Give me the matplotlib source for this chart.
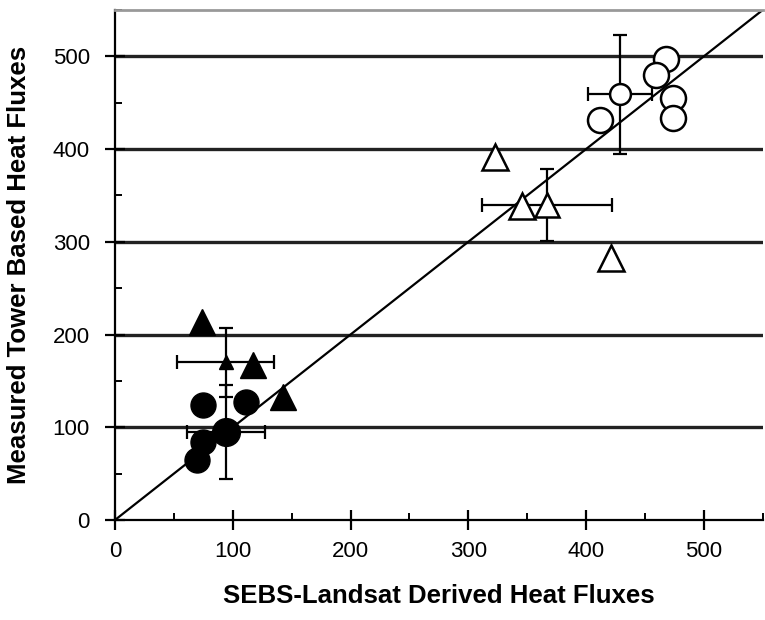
import matplotlib.pyplot as plt
from matplotlib.ticker import MultipleLocator

# filled circles
fc_x = [75, 111, 75, 70]
fc_y = [124, 127, 84, 65]
fc_mean = (94, 95)
fc_xerr = 33
fc_yerr = 51

# filled triangles
ft_x = [74, 117, 143]
ft_y = [213, 167, 133]
ft_mean = (94, 170)
ft_xerr = 41
ft_yerr = 37

# open triangles
ot_x = [323, 346, 421]
ot_y = [391, 339, 283]
ot_mean = (367, 340)
ot_xerr = 55
ot_yerr = 39

# open circles
oc_x = [468, 459, 474, 474, 412]
oc_y = [497, 480, 455, 433, 431]
oc_mean = (429, 459)
oc_xerr = 27
oc_yerr = 64

ticks = [0, 100, 200, 300, 400, 500]

plt.rcParams['font.family'] = ['Liberation Sans', 'DejaVu Sans']

fig = plt.figure(figsize=(7.65, 6.2), dpi=100)
ax = fig.add_axes([0.1503, 0.1613, 0.8467, 0.8226])
ax.set_xlim(0, 550)
ax.set_ylim(0, 550)

for t in ticks[1:]:
    ax.axhline(t, color='#222222', lw=2.4, zorder=1)

ax.plot([0, 550], [0, 550], color='black', lw=1.6, zorder=2)

eb = dict(ecolor='black', elinewidth=1.6, capsize=5, capthick=1.6, zorder=3)

ax.errorbar(*ft_mean, xerr=ft_xerr, yerr=ft_yerr, fmt='none', **eb)
ax.errorbar(*fc_mean, xerr=fc_xerr, yerr=fc_yerr, fmt='none', **eb)
ax.errorbar(*ot_mean, xerr=ot_xerr, yerr=ot_yerr, fmt='none', **eb)
ax.errorbar(*oc_mean, xerr=oc_xerr, yerr=oc_yerr, fmt='none', **eb)

ax.plot(fc_x, fc_y, 'o', ms=18, color='black', zorder=4)
ax.plot(*fc_mean, 'o', ms=20, color='black', zorder=4)
ax.plot(ft_x, ft_y, '^', ms=19, color='black', zorder=4)
ax.plot(*ft_mean, '^', ms=10, color='black', zorder=5)
ax.plot(ot_x, ot_y, '^', ms=19, mfc='white', mec='black', mew=1.8, zorder=4)
ax.plot(*ot_mean, '^', ms=17, mfc='white', mec='black', mew=1.8, zorder=4)
ax.plot(oc_x, oc_y, 'o', ms=18, mfc='white', mec='black', mew=1.8, zorder=4)
ax.plot(*oc_mean, 'o', ms=15, mfc='white', mec='black', mew=1.8, zorder=5)

ax.spines['right'].set_visible(False)
ax.spines['top'].set_color('#999999')
ax.spines['top'].set_linewidth(2)
for s in ['left', 'bottom']:
    ax.spines[s].set_linewidth(1.6)

ax.set_xticks(ticks)
ax.set_yticks(ticks)
ax.xaxis.set_minor_locator(MultipleLocator(50))
ax.yaxis.set_minor_locator(MultipleLocator(50))
ax.tick_params(which='major', direction='inout', length=14, width=1.6,
               labelsize=16, pad=11, top=False, right=False)
ax.tick_params(which='minor', direction='in', length=5, width=1.4,
               top=False, right=False)
ax.tick_params(axis='x', which='major', pad=8)

ax.set_xlabel('SEBS-Landsat Derived Heat Fluxes', fontsize=18.5,
              fontweight='bold', labelpad=16)
ax.set_ylabel('Measured Tower Based Heat Fluxes', fontsize=18.5,
              fontweight='bold', labelpad=16)

fig.savefig('out.png', dpi=100)
